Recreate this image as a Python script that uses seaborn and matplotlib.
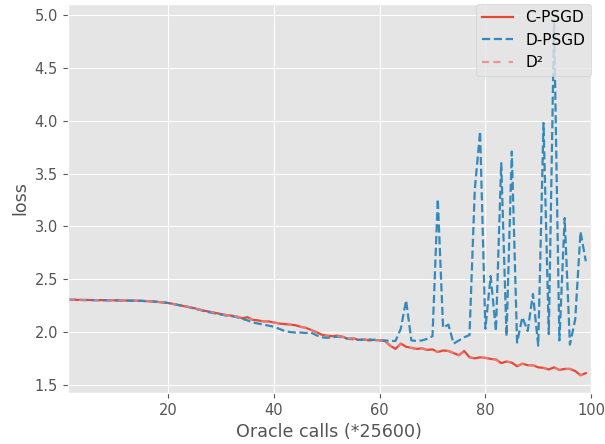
import numpy as np
import pandas as pd
import matplotlib
matplotlib.use("Agg")
import matplotlib.pyplot as plt
import seaborn as sns

# Oracle calls (*25600)
steps = list(range(1, 100))

c_psgd = [
    2.305, 2.305, 2.304, 2.303, 2.303, 2.302, 2.302, 2.301, 2.300, 2.300,
    2.299, 2.298, 2.297, 2.296, 2.295, 2.292, 2.290, 2.285, 2.280, 2.275,
    2.265, 2.255, 2.245, 2.235, 2.225, 2.210, 2.200, 2.190, 2.180, 2.170,
    2.160, 2.155, 2.145, 2.130, 2.140, 2.115, 2.110, 2.100, 2.100, 2.090,
    2.080, 2.075, 2.070, 2.065, 2.050, 2.040, 2.020, 2.000, 1.975, 1.965,
    1.960, 1.965, 1.955, 1.935, 1.940, 1.925, 1.930, 1.920, 1.925, 1.920,
    1.915, 1.870, 1.840, 1.890, 1.860, 1.850, 1.840, 1.845, 1.830, 1.835,
    1.810, 1.825, 1.820, 1.800, 1.780, 1.820, 1.760, 1.750, 1.760, 1.755,
    1.745, 1.740, 1.705, 1.720, 1.710, 1.675, 1.700, 1.685, 1.685, 1.665,
    1.660, 1.645, 1.665, 1.640, 1.650, 1.650, 1.630, 1.590, 1.610,
]

d_psgd = [
    2.305, 2.305, 2.304, 2.303, 2.303, 2.302, 2.302, 2.301, 2.300, 2.300,
    2.299, 2.298, 2.297, 2.296, 2.295, 2.292, 2.290, 2.285, 2.280, 2.275,
    2.265, 2.255, 2.245, 2.235, 2.220, 2.210, 2.195, 2.185, 2.175, 2.165,
    2.155, 2.150, 2.140, 2.125, 2.110, 2.090, 2.080, 2.070, 2.060, 2.050,
    2.030, 2.010, 2.000, 1.995, 1.995, 1.990, 1.995, 1.970, 1.950, 1.945,
    1.950, 1.955, 1.950, 1.935, 1.930, 1.925, 1.925, 1.930, 1.925, 1.920,
    1.920, 1.915, 1.915, 2.030, 2.300, 1.920, 1.915, 1.920, 1.935, 1.960,
    3.260, 2.040, 2.070, 1.890, 1.920, 1.950, 1.970, 3.350, 3.900, 2.030,
    2.530, 2.010, 3.600, 1.960, 3.710, 1.900, 2.140, 2.010, 2.360, 1.870,
    3.980, 1.980, 4.940, 1.920, 3.080, 1.880, 2.120, 2.950, 2.670,
]

d2 = [
    2.305, 2.305, 2.304, 2.303, 2.303, 2.302, 2.302, 2.301, 2.300, 2.300,
    2.299, 2.298, 2.297, 2.296, 2.295, 2.292, 2.290, 2.285, 2.280, 2.275,
    2.265, 2.255, 2.245, 2.235, 2.225, 2.210, 2.200, 2.190, 2.180, 2.170,
    2.160, 2.155, 2.145, 2.130, 2.135, 2.115, 2.110, 2.100, 2.100, 2.090,
    2.080, 2.075, 2.070, 2.065, 2.050, 2.040, 2.020, 2.000, 1.975, 1.965,
    1.960, 1.960, 1.955, 1.935, 1.940, 1.925, 1.930, 1.920, 1.925, 1.920,
    1.915, 1.870, 1.840, 1.885, 1.860, 1.850, 1.840, 1.845, 1.830, 1.835,
    1.810, 1.825, 1.820, 1.800, 1.780, 1.815, 1.760, 1.750, 1.760, 1.755,
    1.745, 1.740, 1.705, 1.720, 1.710, 1.675, 1.700, 1.685, 1.685, 1.665,
    1.660, 1.645, 1.665, 1.640, 1.650, 1.650, 1.630, 1.590, 1.610,
]

df = pd.DataFrame({"step": steps, "C-PSGD": c_psgd, "D-PSGD": d_psgd, "D2": d2})

plt.style.use("ggplot")
plt.rcParams["font.size"] = 10.5
fig, ax = plt.subplots(figsize=(6.05, 4.44), dpi=100)
fig.subplots_adjust(left=0.112, right=0.977, top=0.991, bottom=0.115)

sns.lineplot(data=df, x="step", y="C-PSGD", ax=ax, color="#E24A33",
             linewidth=1.6, label="C-PSGD")
sns.lineplot(data=df, x="step", y="D-PSGD", ax=ax, color="#348ABD",
             linewidth=1.6, linestyle="--", label="D-PSGD")
sns.lineplot(data=df, x="step", y="D2", ax=ax, color="lightcoral", alpha=0.8,
             linewidth=1.6, linestyle=(0, (3.2, 1.9, 3.2, 3.7, 1.9, 3.7)),
             label="D²")

ax.set_xlim(1, 100)
ax.set_xticks([20, 40, 60, 80, 100])
ax.set_xlabel("Oracle calls (*25600)")
ax.set_ylabel("loss")
ax.legend(loc="upper right", borderaxespad=0, fontsize=11)

fig.savefig("out.png", dpi=100)
